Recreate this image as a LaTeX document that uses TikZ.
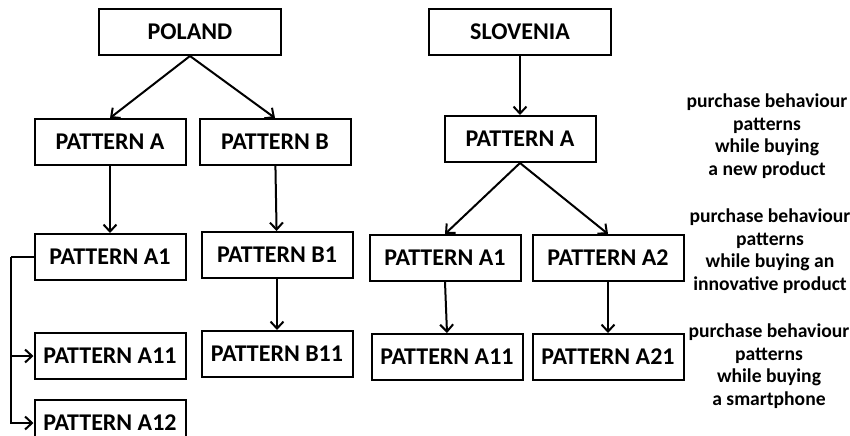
\documentclass[tikz,border=0pt]{standalone}
\usepackage{fontspec}
\setmainfont{Carlito}
\usetikzlibrary{arrows.meta,positioning}
\tikzset{box/.style={draw,line width=1pt,minimum width=75.5pt,minimum height=23pt,inner sep=0pt,align=center,font=\bfseries\fontsize{12}{14}\selectfont},root/.style={box,minimum width=91pt},edge/.style={-{Straight Barb[length=3.5pt,width=6.5pt]},line width=1pt},note/.style={align=center,font=\bfseries\fontsize{9.8}{11.25}\selectfont}}

\begin{document}
\begin{tikzpicture}[x=0.5pt,y=-0.5pt,node distance=33.5pt and 6pt]
\useasboundingbox (0,0) rectangle (850,435);
\node[root] (pl) at (190,32) {POLAND};
\node[box,below=31pt of pl,xshift=-40pt] (plA) {PATTERN A};
\node[box,right=of plA] (plB) {PATTERN B};
\node[box,below=of plA] (plA1) {PATTERN A1};
\node[box,below=32.5pt of plB,xshift=1pt] (plB1) {PATTERN B1};
\node[box,below=25.5pt of plA1] (plA11) {PATTERN A11};
\node[box,below=25.5pt of plB1] (plB11) {PATTERN B11};
\node[box,below=9.5pt of plA11] (plA12) {PATTERN A12};
\node[root,right=73pt of pl] (sl) {SLOVENIA};
\node[box,below=29.5pt of sl] (slA) {PATTERN A};
\node[box,below=35.5pt of slA,xshift=-37.5pt] (slA1) {PATTERN A1};
\node[box,right=5pt of slA1] (slA2) {PATTERN A2};
\node[box,below=25.5pt of slA1,xshift=1pt] (slA11) {PATTERN A11};
\node[box,below=25.5pt of slA2] (slA21) {PATTERN A21};
\node[note] (n1) at (767,136) {purchase behaviour\\patterns\\while buying\\a new product};
\node[note] (n2) at (770,251) {purchase behaviour\\patterns\\while buying an\\innovative product};
\node[note] (n3) at (769,366) {purchase behaviour\\patterns\\while buying\\a smartphone};
\coordinate (fork) at ([xshift=-11.5pt]plA1.west);
\draw[edge] (pl.south) -- (plA.north);\draw[edge] (pl.south) -- (plB.north);\draw[edge] (plA) -- (plA1);\draw[edge] (plB) -- (plB1);\draw[edge] (plB1) -- (plB11);
\draw[line width=1pt] (plA1.west) -- (fork);\draw[edge] (fork) |- (plA11.west);\draw[edge] (fork) |- (plA12.west);
\draw[edge] (sl) -- (slA);\draw[edge] (slA.south) -- (slA1.north);\draw[edge] (slA.south) -- (slA2.north);\draw[edge] (slA1.south) -- (slA11.north);\draw[edge] (slA2) -- (slA21);
\end{tikzpicture}
\end{document}
